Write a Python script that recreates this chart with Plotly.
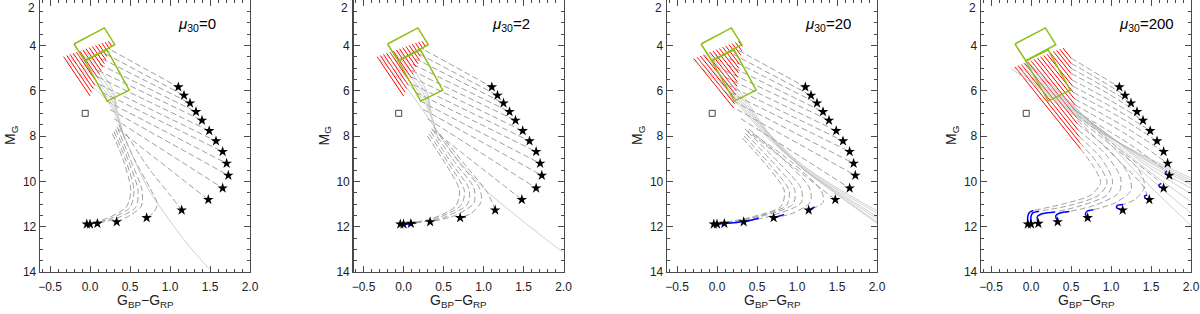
import plotly.graph_objects as go

# ---------------- data ----------------
MU_LABELS = ["0", "2", "20", "200"]

X_TICKS = [-0.5, 0.0, 0.5, 1.0, 1.5, 2.0]
X_TICK_TEXT = ["\u22120.5", "0.0", "0.5", "1.0", "1.5", "2.0"]
X_MINOR = [-0.6, -0.4, -0.3, -0.2, -0.1, 0.1, 0.2, 0.3, 0.4, 0.6, 0.7, 0.8, 0.9,
           1.1, 1.2, 1.3, 1.4, 1.6, 1.7, 1.8, 1.9]
Y_TICKS = [4, 6, 8, 10, 12, 14]
Y_MINOR = [2.5, 3, 3.5, 4.5, 5, 5.5, 6.5, 7, 7.5, 8.5, 9, 9.5, 10.5, 11, 11.5, 12.5, 13, 13.5]

# final positions (stars), identical in all panels
STAR_X = [1.104, 1.175, 1.25, 1.325, 1.40, 1.49, 1.575, 1.658, 1.708, 1.729,
          1.658, 1.479, 1.146, 0.708, 0.333, 0.092, 0.0, -0.04]
STAR_Y = [5.84, 6.21, 6.55, 6.93, 7.31, 7.77, 8.22, 8.69, 9.21, 9.74,
          10.30, 10.81, 11.27, 11.61, 11.79, 11.86, 11.89, 11.89]

SQUARE_X = [-0.06]
SQUARE_Y = [7.0]

BOX_UP_X = [-0.2, 0.18, 0.31, -0.065, -0.2]
BOX_UP_Y = [3.94, 3.23, 3.97, 4.68, 3.94]
BOX_LOW_X = [-0.065, 0.215, 0.49, 0.215, -0.065]
BOX_LOW_Y = [4.68, 4.20, 5.98, 6.46, 4.68]

# red strokes (top -> bottom)
RED12_TOP_X = [-0.33, -0.29, -0.25, -0.21, -0.17, -0.13, -0.09, -0.05, -0.01, 0.03, 0.07, 0.11, 0.15, 0.19, 0.23]
RED12_TOP_Y = [4.50, 4.45, 4.40, 4.35, 4.30, 4.25, 4.20, 4.15, 4.10, 4.05, 4.00, 3.95, 3.90, 3.86, 3.82]
RED12_BOT_X = [0.00, 0.02, 0.04, 0.06, 0.08, 0.10, 0.12, 0.14, 0.16, 0.18, 0.20, 0.21, 0.23, 0.25, 0.27]
RED12_BOT_Y = [6.23, 6.07, 5.91, 5.76, 5.60, 5.44, 5.28, 5.13, 4.96, 4.81, 4.65, 4.49, 4.33, 4.18, 4.03]

RED3_TOP_X = [-0.29, -0.25, -0.21, -0.17, -0.13, -0.09, -0.05, -0.01, 0.03, 0.07, 0.11, 0.15, 0.19, 0.23, 0.27]
RED3_TOP_Y = [4.58, 4.52, 4.47, 4.41, 4.36, 4.30, 4.25, 4.19, 4.14, 4.08, 4.03, 3.97, 3.92, 3.87, 3.82]
RED3_BOT_X = [0.21, 0.22, 0.23, 0.235, 0.24, 0.25, 0.255, 0.26, 0.27, 0.275, 0.28, 0.29, 0.30, 0.31, 0.32]
RED3_BOT_Y = [6.77, 6.58, 6.38, 6.19, 6.00, 5.80, 5.61, 5.41, 5.22, 5.02, 4.83, 4.63, 4.44, 4.24, 4.05]

RED4_TOP_X = [-0.20, -0.16, -0.12, -0.08, -0.04, 0.0, 0.04, 0.08, 0.12, 0.16, 0.20, 0.24, 0.28, 0.32, 0.36, 0.40]
RED4_TOP_Y = [4.96, 4.90, 4.85, 4.79, 4.73, 4.68, 4.62, 4.56, 4.50, 4.45, 4.39, 4.33, 4.27, 4.22, 4.17, 4.12]
RED4_BOT_X = [0.62, 0.61, 0.60, 0.59, 0.58, 0.57, 0.56, 0.55, 0.54, 0.53, 0.52, 0.51, 0.50, 0.50, 0.50, 0.50]
RED4_BOT_Y = [8.57, 8.29, 8.02, 7.74, 7.46, 7.19, 6.91, 6.63, 6.35, 6.08, 5.80, 5.52, 5.24, 5.01, 4.79, 4.56]

# dashed tracks (without the final star point)
UP_DASH = [
    [(0.27, 4.22)], [(0.20, 4.385)], [(0.15, 4.595)], [(0.12, 4.84)],
    [(0.10, 5.107)], [(0.10, 5.398)], [(0.12, 5.727)], [(0.15, 6.069)],
    [(0.20, 6.445)], [(0.25, 6.83)], [(0.30, 7.236)], [(0.35, 7.69)],
]
P1_LOW = [
    [(0.45, 7.9), (0.75, 9.5), (1.0, 10.6)],
    [(0.36, 7.5), (0.55, 9.0), (0.75, 10.3), (0.84, 11.0), (0.8, 11.35)],
    [(0.34, 7.6), (0.50, 9.0), (0.65, 10.4), (0.64, 11.1), (0.5, 11.5)],
    [(0.32, 7.7), (0.47, 9.0), (0.60, 10.4), (0.57, 11.15), (0.35, 11.6)],
    [(0.30, 7.8), (0.44, 9.0), (0.55, 10.4), (0.50, 11.15), (0.25, 11.65)],
    [(0.28, 7.9), (0.41, 9.0), (0.51, 10.4), (0.45, 11.15), (0.2, 11.65)],
]
P2_LOW = [
    [(0.45, 7.9), (0.8, 9.4), (1.05, 10.5)],
    [(0.38, 7.6), (0.70, 9.2), (0.95, 10.3), (0.97, 10.9), (0.85, 11.4)],
    [(0.36, 7.7), (0.65, 9.2), (0.88, 10.3), (0.88, 10.95), (0.65, 11.5)],
    [(0.34, 7.8), (0.60, 9.2), (0.82, 10.35), (0.80, 11.0), (0.5, 11.6)],
    [(0.32, 7.9), (0.56, 9.2), (0.76, 10.4), (0.72, 11.05), (0.4, 11.65)],
    [(0.30, 8.0), (0.52, 9.2), (0.70, 10.4), (0.65, 11.1), (0.35, 11.65)],
]
P3_LOW = [
    [(0.45, 7.9), (0.95, 9.2), (1.30, 10.4), (1.33, 10.9), (1.2, 11.2)],
    [(0.40, 7.7), (0.85, 9.1), (1.15, 10.25), (1.17, 10.9), (0.95, 11.4)],
    [(0.38, 7.8), (0.78, 9.2), (1.05, 10.3), (1.05, 10.95), (0.7, 11.5)],
    [(0.36, 7.9), (0.72, 9.25), (0.97, 10.35), (0.95, 11.0), (0.55, 11.55)],
    [(0.34, 8.0), (0.67, 9.3), (0.90, 10.4), (0.87, 11.05), (0.45, 11.6)],
    [(0.32, 8.1), (0.62, 9.3), (0.84, 10.4), (0.80, 11.1), (0.4, 11.6)],
]
P4_DASH = [
    [(0.50, 4.56), (0.80, 5.20)], [(0.50, 4.79), (0.85, 5.50)], [(0.50, 5.01), (0.90, 5.80)],
    [(0.50, 5.24), (0.95, 6.10)], [(0.51, 5.52), (1.00, 6.45)], [(0.52, 5.80), (1.05, 6.80)],
    [(0.53, 6.08), (1.10, 7.15)], [(0.54, 6.35), (1.15, 7.55)], [(0.55, 6.63), (1.20, 7.95)],
    [(0.56, 6.91), (1.25, 8.40), (1.60, 9.30), (1.70, 9.55)],
    [(0.57, 7.05), (1.20, 8.85), (1.55, 9.85), (1.63, 10.10)],
    [(0.58, 7.30), (1.10, 9.10), (1.40, 10.20), (1.45, 10.60)],
    [(0.57, 7.19), (1.00, 8.40), (1.35, 9.50), (1.42, 10.25), (1.30, 10.8), (1.15, 11.02)],
    [(0.58, 7.46), (0.97, 8.60), (1.22, 9.70), (1.25, 10.40), (1.05, 10.95), (0.78, 11.25)],
    [(0.59, 7.74), (0.93, 8.80), (1.12, 9.85), (1.10, 10.50), (0.80, 11.05), (0.48, 11.33)],
    [(0.60, 8.02), (0.88, 9.00), (1.02, 10.00), (0.95, 10.60), (0.60, 11.10), (0.30, 11.35)],
    [(0.61, 8.29), (0.83, 9.20), (0.95, 10.05), (0.85, 10.60), (0.50, 11.05), (0.10, 11.32)],
    [(0.62, 8.57), (0.78, 9.35), (0.87, 10.05), (0.75, 10.60), (0.40, 11.00), (0.03, 11.28)],
]

# blue segments (end at the star)
P1_BLUE = {}
P2_BLUE = {13: [(0.78, 11.56)], 15: [(0.16, 11.84)], 16: [(0.10, 11.86)], 17: [(0.08, 11.87)]}
P3_BLUE = {12: [(1.22, 11.13)], 13: [(0.84, 11.47), (0.78, 11.53)],
           14: [(0.52, 11.63), (0.42, 11.72)], 15: [(0.33, 11.77), (0.2, 11.83)],
           16: [(0.09, 11.86)], 17: [(0.0, 11.89)]}
P4_BLUE = {9: [(1.68, 9.60), (1.69, 9.68)], 10: [(1.60, 10.15), (1.61, 10.25)],
           11: [(1.42, 10.65), (1.43, 10.75)], 12: [(1.08, 11.06), (1.07, 11.16)],
           13: [(0.70, 11.32), (0.68, 11.45)], 14: [(0.36, 11.40), (0.31, 11.52)],
           15: [(0.15, 11.42), (0.08, 11.55)], 16: [(0.02, 11.40), (0.0, 11.55)],
           17: [(-0.02, 11.38), (-0.04, 11.55)]}

# solid grey tracks
BUNDLE = [
    [(-0.27, 4.47), (0.03, 5.6), (0.26, 6.5), (0.37, 7.4), (0.44, 8.2)],
    [(-0.22, 4.40), (0.06, 5.5), (0.27, 6.4), (0.36, 7.2), (0.41, 7.9)],
    [(-0.17, 4.33), (0.09, 5.4), (0.28, 6.3), (0.35, 7.0)],
    [(-0.12, 4.26), (0.12, 5.3), (0.29, 6.2), (0.34, 6.8)],
    [(-0.07, 4.20), (0.15, 5.2), (0.30, 6.1), (0.33, 6.6)],
]
P1_MAIN = [(-0.32, 4.55), (0.0, 5.7), (0.25, 6.6), (0.38, 7.58), (0.5, 8.6), (0.63, 9.64),
           (0.755, 10.5), (0.96, 11.55), (1.21, 12.73), (1.49, 13.87)]
P2_MAIN = [(-0.32, 4.55), (0.0, 5.7), (0.29, 7.1), (0.6, 8.7), (1.0, 10.3), (1.42, 11.55), (2.0, 13.15)]
P3_FAN = [
    [(-0.30, 4.62), (0.00, 5.65), (0.30, 6.75), (0.60, 7.95), (1.04, 9.32), (1.46, 10.35), (2.0, 11.55)],
    [(-0.25, 4.55), (0.03, 5.60), (0.32, 6.72), (0.62, 7.95), (1.05, 9.36), (1.47, 10.42), (2.0, 11.65)],
    [(-0.20, 4.48), (0.06, 5.55), (0.34, 6.70), (0.64, 7.96), (1.06, 9.40), (1.48, 10.50), (2.0, 11.78)],
    [(-0.15, 4.41), (0.09, 5.50), (0.36, 6.68), (0.66, 7.98), (1.07, 9.44), (1.49, 10.56), (2.0, 11.85)],
    [(-0.10, 4.34), (0.12, 5.45), (0.38, 6.65), (0.62, 7.80), (1.03, 9.22), (1.45, 10.25), (2.0, 11.40)],
    [(-0.05, 4.27), (0.15, 5.40), (0.40, 6.60), (0.62, 7.75), (1.02, 9.15), (1.45, 10.18), (2.0, 11.30)],
]
P4_FAN = [
    [(-0.25, 5.02), (0.10, 5.90), (0.45, 6.85), (0.90, 7.90), (1.40, 8.85), (2.0, 9.85)],
    [(-0.22, 4.97), (0.12, 5.88), (0.47, 6.84), (0.92, 7.90), (1.40, 8.90), (2.0, 9.95)],
    [(-0.19, 4.93), (0.14, 5.86), (0.49, 6.83), (0.94, 7.92), (1.40, 8.95), (2.0, 10.05)],
    [(-0.16, 4.88), (0.16, 5.84), (0.51, 6.82), (0.96, 7.94), (1.40, 9.00), (2.0, 10.15)],
    [(-0.13, 4.84), (0.18, 5.82), (0.53, 6.82), (0.98, 7.98), (1.40, 9.10), (2.0, 10.30)],
    [(-0.10, 4.79), (0.20, 5.80), (0.55, 6.83), (1.00, 8.05), (1.40, 9.20), (2.0, 10.55)],
    [(-0.07, 4.75), (0.22, 5.78), (0.57, 6.85), (1.00, 8.15), (1.40, 9.35), (2.0, 10.90)],
    [(-0.04, 4.70), (0.24, 5.76), (0.59, 6.88), (1.00, 8.25), (1.40, 9.60), (2.0, 11.40)],
    [(-0.01, 4.66), (0.26, 5.74), (0.61, 6.92), (1.00, 8.40), (1.40, 9.90), (2.0, 11.95)],
]

# ---------------- layout geometry ----------------
W, H = 1200, 314
PANEL_LEFT_PX = [40, 353.5, 667, 981]
PANEL_W_PX = 210
PLOT_BOTTOM_PX = 272

FRAME = "#4a4a4a"
FONT = "Liberation Sans, Arial, Helvetica, sans-serif"


def flatten(paths):
    xs, ys = [], []
    for p in paths:
        for (x, y) in p:
            xs.append(x)
            ys.append(y)
        xs.append(None)
        ys.append(None)
    return xs, ys


def strokes(tx, ty, bx, by):
    return [[(tx[i], ty[i]), (bx[i], by[i])] for i in range(len(tx))]


panels = [
    dict(dash=UP_DASH + P1_LOW, hook=False, blue=P1_BLUE,
         red=strokes(RED12_TOP_X, RED12_TOP_Y, RED12_BOT_X, RED12_BOT_Y),
         solid=BUNDLE + [P1_MAIN]),
    dict(dash=UP_DASH + P2_LOW, hook=False, blue=P2_BLUE,
         red=strokes(RED12_TOP_X, RED12_TOP_Y, RED12_BOT_X, RED12_BOT_Y),
         solid=BUNDLE + [P2_MAIN]),
    dict(dash=UP_DASH + P3_LOW, hook=False, blue=P3_BLUE,
         red=strokes(RED3_TOP_X, RED3_TOP_Y, RED3_BOT_X, RED3_BOT_Y),
         solid=P3_FAN),
    dict(dash=P4_DASH, hook=True, blue=P4_BLUE,
         red=strokes(RED4_TOP_X, RED4_TOP_Y, RED4_BOT_X, RED4_BOT_Y),
         solid=P4_FAN),
]

fig = go.Figure()
annotations = []
y_dom = [1 - PLOT_BOTTOM_PX / H, 1.0]

for k, pan in enumerate(panels):
    sfx = "" if k == 0 else str(k + 1)
    xa, ya = "x" + sfx, "y" + sfx
    star = list(zip(STAR_X, STAR_Y))

    dash_paths, blue_paths = [], []
    for i, p in enumerate(pan["dash"]):
        if pan["hook"] and i in pan["blue"]:
            dash_paths.append(list(p))
            blue_paths.append([p[-1]] + pan["blue"][i] + [star[i]])
        else:
            dash_paths.append(list(p) + [star[i]])
            if i in pan["blue"]:
                blue_paths.append(pan["blue"][i] + [star[i]])

    # dashed tracks
    dx, dy = flatten(dash_paths)
    fig.add_trace(go.Scatter(x=dx, y=dy, mode="lines", xaxis=xa, yaxis=ya,
                             line=dict(color="#a0a0a0", width=1, dash="6px,3px", shape="spline", smoothing=0.8),
                             hoverinfo="skip"))
    # red strokes
    rx, ry = flatten(pan["red"])
    fig.add_trace(go.Scatter(x=rx, y=ry, mode="lines", xaxis=xa, yaxis=ya,
                             line=dict(color="#ff0000", width=1.0), hoverinfo="skip"))
    # solid grey tracks (semi transparent, over red)
    sx, sy = flatten(pan["solid"])
    fig.add_trace(go.Scatter(x=sx, y=sy, mode="lines", xaxis=xa, yaxis=ya,
                             line=dict(color="rgba(175,175,175,0.6)", width=1, shape="spline", smoothing=0.8),
                             hoverinfo="skip"))
    # blue segments
    if blue_paths:
        bx, by = flatten(blue_paths)
        fig.add_trace(go.Scatter(x=bx, y=by, mode="lines", xaxis=xa, yaxis=ya,
                                 line=dict(color="#0000ff", width=1.5, shape="spline", smoothing=0.8),
                                 hoverinfo="skip"))
    # green boxes
    gx, gy = flatten([list(zip(BOX_UP_X, BOX_UP_Y)), list(zip(BOX_LOW_X, BOX_LOW_Y))])
    fig.add_trace(go.Scatter(x=gx, y=gy, mode="lines", xaxis=xa, yaxis=ya,
                             line=dict(color="#8cbf14", width=1.5), hoverinfo="skip"))
    # stars
    fig.add_trace(go.Scatter(x=STAR_X, y=STAR_Y, mode="markers", xaxis=xa, yaxis=ya,
                             marker=dict(symbol="star", size=8, color="black", line=dict(width=0)),
                             hoverinfo="skip"))
    # open square
    fig.add_trace(go.Scatter(x=SQUARE_X, y=SQUARE_Y, mode="markers", xaxis=xa, yaxis=ya,
                             marker=dict(symbol="square-open", size=6, color="#444444", line=dict(width=1)),
                             hoverinfo="skip"))

    left = PANEL_LEFT_PX[k] / W
    right = (PANEL_LEFT_PX[k] + PANEL_W_PX) / W
    common = dict(showline=True, linecolor=FRAME, linewidth=1.3, mirror="allticks",
                  ticks="inside", ticklen=6, tickwidth=1, tickcolor=FRAME,
                  showgrid=False, zeroline=False, automargin=False,
                  tickfont=dict(family=FONT, size=12, color="#222222"))
    fig.layout["xaxis" + sfx] = dict(common, domain=[left, right], range=[-0.625, 2.0],
                                     anchor=ya, tickmode="array", tickvals=X_TICKS, ticktext=X_TICK_TEXT,
                                     minor=dict(tickmode="array", tickvals=X_MINOR, ticks="inside",
                                                ticklen=3, tickcolor=FRAME),
                                     ticklabelstandoff=3)
    fig.layout["yaxis" + sfx] = dict(common, domain=y_dom, range=[14, 2],
                                     anchor=xa, tickmode="array", tickvals=Y_TICKS,
                                     ticktext=[str(v) for v in Y_TICKS],
                                     minor=dict(tickmode="array", tickvals=Y_MINOR, ticks="inside",
                                                ticklen=3, tickcolor=FRAME),
                                     ticklabelstandoff=0)

    # top tick label "2" (kept inside the page)
    annotations.append(dict(text="2", xref="paper", yref="paper",
                            x=(PANEL_LEFT_PX[k] - 3) / W, y=1 - 7.5 / H,
                            xanchor="right", yanchor="middle", showarrow=False,
                            font=dict(family=FONT, size=12, color="#222222")))
    # mu label
    annotations.append(dict(text="<i>\u03bc</i><sub>30</sub>=" + MU_LABELS[k],
                            xref=xa, yref=ya, x=1.08, y=3.1, xanchor="left", yanchor="middle",
                            showarrow=False, font=dict(family=FONT, size=15, color="black")))
    # x title
    annotations.append(dict(text="G<sub>BP</sub>\u2212G<sub>RP</sub>", xref="paper", yref="paper",
                            x=(PANEL_LEFT_PX[k] + PANEL_W_PX / 2) / W, y=1 - 301 / H,
                            xanchor="center", yanchor="middle", showarrow=False,
                            font=dict(family=FONT, size=14, color="#222222")))
    # y title
    annotations.append(dict(text="M<sub>G</sub>", xref="paper", yref="paper",
                            x=(PANEL_LEFT_PX[k] - 29) / W, y=1 - 136 / H,
                            xanchor="center", yanchor="middle", textangle=-90, showarrow=False,
                            font=dict(family=FONT, size=14, color="#222222")))

fig.update_layout(width=W, height=H, margin=dict(l=0, r=0, t=0, b=0, autoexpand=False),
                  paper_bgcolor="white", plot_bgcolor="white", showlegend=False,
                  annotations=annotations)

fig.write_html("out.html",
               config={"displayModeBar": False, "staticPlot": True},
               post_script="document.body.style.margin='0';document.body.style.overflow='hidden';")
